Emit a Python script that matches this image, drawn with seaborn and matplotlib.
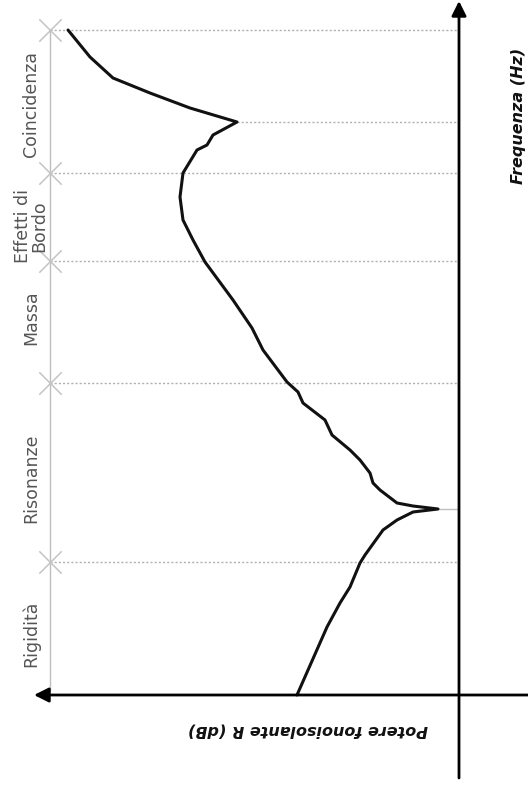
import numpy as np
import pandas as pd
import seaborn as sns
import matplotlib
matplotlib.use("Agg")
import matplotlib.pyplot as plt

# curva del potere fonoisolante (unita arbitrarie)
frequenza = [1, 69, 93, 109, 133, 141, 166, 176, 184, 187, 190, 193, 206, 213, 223,
             236, 246, 261, 276, 293, 304, 314, 346, 368, 396, 434, 456, 476, 499,
             523, 546, 551, 561, 574, 588, 603, 618, 639, 666]
potere_R = [162, 132, 119, 109, 99, 94, 76, 62, 46, 21, 46, 62, 79, 86, 89,
            99, 109, 127, 134, 156, 161, 172, 196, 207, 226, 254, 266, 276, 279,
            276, 262, 252, 246, 222, 269, 309, 346, 369, 391]

limiti_zone = [134, 313, 435, 523, 666]
zone = ["Rigidità", "Risonanze", "Massa", "Effetti di\nBordo", "Coincidenza"]
centri_zone = [62, 218, 378, 470, 592]
f_risonanza = 187
f_coincidenza = 574
R_coincidenza = 222

df = pd.DataFrame({"f": frequenza, "R": potere_R})

sns.set_style("white")
fig = plt.figure(figsize=(5.28, 7.92), dpi=100)
ax = fig.add_axes([0, 0, 1, 1])
ax.set_xlim(459, -69)
ax.set_ylim(-96, 696)
ax.axis("off")

x_zone = 409
# linea guida a sinistra e tratteggi delle zone
ax.plot([x_zone, x_zone], [5, 666], color="#bdbdbd", lw=1, zorder=1)
for f in limiti_zone:
    ax.plot([x_zone, 0], [f, f], color="#b0b0b0", lw=1, ls=(0, (1.5, 1.5)), zorder=1)
ax.plot([R_coincidenza, 0], [f_coincidenza] * 2, color="#b0b0b0", lw=1,
        ls=(0, (1.5, 1.5)), zorder=1)
ax.plot([21, 0], [f_risonanza] * 2, color="#c0c0c0", lw=1, zorder=1)

sns.scatterplot(x=[x_zone] * len(limiti_zone), y=limiti_zone, marker="x", s=260,
                color="#c4c4c4", linewidth=1.1, ax=ax, zorder=2)

sns.lineplot(data=df, x="R", y="f", sort=False, estimator=None, color="#111111",
             lw=2.2, ax=ax, zorder=3)

# assi con frecce
ax.annotate("", xy=(0, 695), xytext=(0, -82), annotation_clip=False,
            arrowprops=dict(arrowstyle="-|>", lw=2, color="black", mutation_scale=22,
                            shrinkA=0, shrinkB=0))
ax.annotate("", xy=(425, 1), xytext=(-69, 1), annotation_clip=False,
            arrowprops=dict(arrowstyle="-|>", lw=2, color="black", mutation_scale=22,
                            shrinkA=0, shrinkB=0))

for nome, fc in zip(zone, centri_zone):
    ax.text(428, fc, nome, rotation=90, ha="center", va="center", fontsize=12.5,
            color="#555555", linespacing=0.85)

ax.text(-60, 580, "Frequenza (Hz)", rotation=90, ha="center", va="center",
        fontsize=11.5, fontstyle="italic", fontweight="bold", color="#111111")
ax.text(151, -34, "Potere fonoisolante R (dB)", rotation=180, ha="center", va="center",
        fontsize=11.5, fontstyle="italic", fontweight="bold", color="#111111")

fig.savefig("out.png", dpi=100)
